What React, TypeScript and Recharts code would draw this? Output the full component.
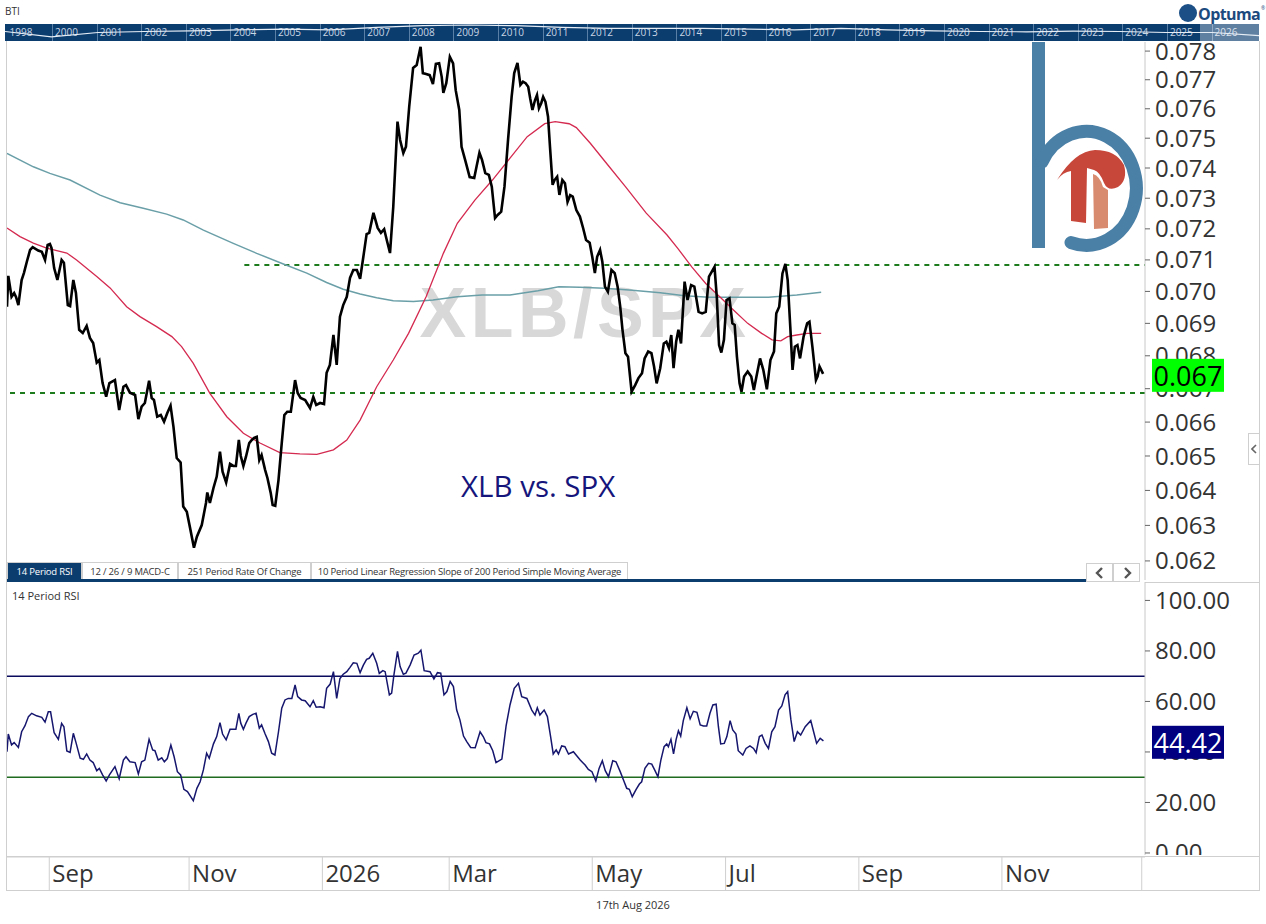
import React from 'react';
import { LineChart, Line, XAxis, YAxis, ReferenceLine } from 'recharts';

// x = trading session counted from the left edge of the window (about 13 Aug 2025)
const price: [number, number][] = [
  [0, 0.06952], [0.4, 0.07049], [1.4, 0.06983], [2.2, 0.06995], [2.8, 0.06982], [3.5, 0.06957], [4.5, 0.07036], [5.2, 0.07058],
  [6.1, 0.07094], [7.1, 0.07132], [7.9, 0.07141], [9.6, 0.0713], [10.7, 0.07126], [11.7, 0.071], [12.5, 0.07148], [13.2, 0.07151],
  [13.7, 0.07138], [14.5, 0.07074], [15.5, 0.07036], [16.8, 0.071], [17.5, 0.07091], [18.7, 0.06957], [19.4, 0.06954], [20.4, 0.07036],
  [21.2, 0.06995], [22.2, 0.0688], [23.3, 0.0687], [24.5, 0.06892], [25.5, 0.06855], [26.5, 0.06839], [27.6, 0.06779], [28.4, 0.06787],
  [29.4, 0.06717], [30.5, 0.06676], [31.5, 0.06717], [33.2, 0.06726], [34.5, 0.06636], [35.8, 0.06706], [36.6, 0.06711], [37.8, 0.06688],
  [39.4, 0.06681], [40.4, 0.06609], [41.4, 0.06646], [42.4, 0.06657], [43.7, 0.06724], [44.5, 0.06672], [45.2, 0.06666], [46.2, 0.06616],
  [47.3, 0.06621], [48.3, 0.06601], [49.3, 0.06627], [50.3, 0.06649], [51.2, 0.06586], [52.2, 0.06494], [53.4, 0.06481], [54.2, 0.06354],
  [55.3, 0.06339], [56.3, 0.06293], [57.5, 0.06237], [58.4, 0.06268], [59.9, 0.06301], [61.2, 0.06364], [61.6, 0.06394], [62.4, 0.06364],
  [63.5, 0.06407], [64.5, 0.0644], [65.5, 0.06513], [66.3, 0.06454], [67.4, 0.06423], [68.6, 0.06477], [69.6, 0.06471], [70.4, 0.06471],
  [71.3, 0.06547], [71.9, 0.065], [72.7, 0.06471], [73.5, 0.06498], [74.5, 0.06538], [75.3, 0.06547], [76, 0.06553], [76.8, 0.06556],
  [77.6, 0.06488], [78.3, 0.06503], [79.4, 0.06459], [80.1, 0.06436], [81.1, 0.06393], [81.7, 0.06358], [82.5, 0.06356], [83.5, 0.0643],
  [84.5, 0.06538], [85.3, 0.06621], [86.2, 0.06631], [87.3, 0.06631], [88.6, 0.06726], [89.4, 0.06687], [90.3, 0.06672], [91.7, 0.06666],
  [93.2, 0.06642], [94.2, 0.06675], [95.1, 0.06651], [96.3, 0.06657], [97.5, 0.06654], [98.3, 0.06748], [99.3, 0.06772], [100.4, 0.06864],
  [101.4, 0.06772], [102.4, 0.06921], [103.4, 0.06957], [104.5, 0.06983], [105.5, 0.07043], [106.5, 0.07068], [107.6, 0.07068], [108.6, 0.0704],
  [109.6, 0.0711], [110.6, 0.07183], [111.4, 0.07187], [112.7, 0.07252], [114, 0.07203], [115, 0.07187], [116, 0.07199], [116.8, 0.07164],
  [117.8, 0.07122], [118.8, 0.07272], [120.1, 0.07556], [120.9, 0.07494], [121.9, 0.0745], [122.7, 0.07471], [123.7, 0.07607], [124.9, 0.07741],
  [126, 0.07751], [127.2, 0.07815], [127.9, 0.07723], [128.9, 0.0772], [130, 0.07716], [131, 0.07685], [131.9, 0.07755], [132.9, 0.07757],
  [133.7, 0.0771], [134.2, 0.07655], [135.1, 0.07688], [136.2, 0.0778], [137.2, 0.07757], [138, 0.07664], [139.1, 0.07596], [139.8, 0.07471],
  [140.9, 0.07427], [142.3, 0.0737], [143.7, 0.07367], [144.4, 0.07404], [145.3, 0.07451], [146.1, 0.07427], [147.1, 0.07383], [148.2, 0.07377],
  [149.1, 0.07338], [150.1, 0.07235], [150.9, 0.07245], [152, 0.07256], [153, 0.07338], [154.1, 0.07494], [155.2, 0.07641], [156, 0.07723],
  [157, 0.07759], [157.9, 0.07682], [158.7, 0.07693], [159.5, 0.07688], [160.3, 0.07676], [160.9, 0.07636], [161.6, 0.07596], [162.4, 0.0763],
  [163, 0.07647], [163.6, 0.07602], [164.3, 0.07619], [164.9, 0.07641], [165.6, 0.07624], [166.4, 0.07573], [167, 0.07471], [167.8, 0.07344],
  [168.4, 0.0736], [169.2, 0.07371], [169.9, 0.07311], [170.8, 0.0736], [171.6, 0.07349], [172.4, 0.07288], [173.2, 0.0731], [174, 0.07305],
  [175.1, 0.07261], [176.2, 0.0724], [177.2, 0.07202], [178.1, 0.07164], [179.2, 0.07155], [180, 0.0711], [180.8, 0.07058], [181.5, 0.0711],
  [182.4, 0.07132], [183.1, 0.07094], [183.9, 0.07015], [184.8, 0.06999], [185.9, 0.07068], [186.9, 0.07058], [187.8, 0.07015], [188.6, 0.06952],
  [189.3, 0.0688], [190.2, 0.06808], [191, 0.06797], [192.1, 0.06691], [193.2, 0.06711], [194.2, 0.06732], [195.3, 0.06747], [196.1, 0.06792],
  [197.2, 0.06813], [198.2, 0.06808], [199, 0.06767], [199.8, 0.06716], [200.9, 0.06762], [202, 0.06838], [202.8, 0.06843], [203.6, 0.06823],
  [204.3, 0.06864], [205, 0.06762], [205.8, 0.06843], [206.5, 0.0688], [207.3, 0.06838], [208.4, 0.07031], [209.3, 0.06973], [210.4, 0.0702],
  [211.4, 0.07015], [212.7, 0.06936], [213.8, 0.06931], [214.9, 0.06936], [215.9, 0.07047], [217.6, 0.07078], [218.3, 0.06983], [219, 0.06833],
  [219.7, 0.0681], [220.5, 0.06849], [221.3, 0.06973], [222.2, 0.06978], [223.1, 0.069], [223.8, 0.06895], [224.5, 0.06797], [225.3, 0.06716],
  [225.9, 0.06691], [226.7, 0.06737], [227.8, 0.06752], [228.9, 0.06737], [229.7, 0.06696], [230.5, 0.06737], [231.6, 0.06792], [232.6, 0.06757],
  [233.7, 0.06698], [234.8, 0.06787], [235.9, 0.06813], [236.6, 0.06931], [237.5, 0.06952], [238.5, 0.07057], [239.4, 0.07087], [240.1, 0.07036],
  [240.9, 0.0689], [241.6, 0.06757], [242.3, 0.06828], [243.1, 0.06833], [243.9, 0.06792], [245, 0.06859], [246.1, 0.069], [246.8, 0.06905],
  [247.7, 0.06828], [248.8, 0.06726], [249.3, 0.06737], [249.9, 0.06767], [250.4, 0.06757], [251, 0.06745],
];

// red moving average
const sma50: [number, number][] = [
  [0, 0.07203], [4, 0.07175], [8.1, 0.07154], [12.2, 0.07138], [18.4, 0.07122], [21.4, 0.071], [27.6, 0.07047], [31.7, 0.07011],
  [36.8, 0.06952], [40.9, 0.06921], [46, 0.0689], [50.7, 0.06859], [53.7, 0.06828], [57.3, 0.06777], [62.4, 0.06686], [67.6, 0.06616],
  [72.7, 0.06567], [77.8, 0.06538], [83.9, 0.0651], [90.1, 0.06506], [95.3, 0.06505], [100.4, 0.06518], [104.5, 0.06547], [108.6, 0.06606],
  [113.7, 0.06706], [118.8, 0.06787], [123.5, 0.06869], [128.9, 0.06983], [134.2, 0.07121], [138.5, 0.07218], [143.9, 0.07294], [149.3, 0.0736],
  [154.7, 0.07433], [160, 0.07505], [165.4, 0.07549], [168.6, 0.07556], [172.9, 0.07549], [175.1, 0.07536], [179.4, 0.07483], [184.8, 0.0741],
  [190.2, 0.07338], [196.6, 0.07251], [203, 0.0718], [206.3, 0.07137], [210.6, 0.07078], [214.9, 0.07025], [219.2, 0.06983], [223.5, 0.06941],
  [227.8, 0.069], [232.1, 0.06869], [235.3, 0.06849], [238, 0.06846], [240.1, 0.06859], [242.9, 0.06864], [246.1, 0.06869], [250.4, 0.06869],
];

// teal moving average
const sma200: [number, number][] = [
  [0, 0.07449], [8.1, 0.07404], [13.2, 0.07382], [19.4, 0.0736], [28.6, 0.0731], [34.8, 0.07285], [41.9, 0.07267], [49.1, 0.07248],
  [54.2, 0.07229], [60.4, 0.07196], [69.6, 0.07153], [76.8, 0.07121], [85, 0.07087], [92.2, 0.07058], [98.3, 0.07028], [103.4, 0.07007],
  [108.6, 0.06992], [113.7, 0.0698], [118.8, 0.06971], [125, 0.06968], [131, 0.06973], [138.5, 0.06983], [146.1, 0.06989], [154.7, 0.06989],
  [163.3, 0.07002], [169.7, 0.07015], [176.2, 0.07013], [183.7, 0.0701], [192.3, 0.07004], [200.9, 0.06996], [208.4, 0.06986], [215.9, 0.06982],
  [224.5, 0.06982], [234.2, 0.06982], [242.9, 0.06989], [250.4, 0.06997],
];

const rsi14: [number, number][] = [
  [0, 40.1], [0.4, 47.1], [1.4, 42.8], [2.2, 43.7], [3.5, 41.8], [4.5, 48], [5.5, 50.3], [6.6, 54], [7.6, 55.3], [9.1, 54.3],
  [10.7, 53.7], [11.7, 51.8], [12.7, 55.9], [13.4, 55.9], [14.5, 47.6], [15.8, 45], [16.8, 51.3], [17.5, 50], [18.4, 40.4], [19.4, 39.8],
  [20.4, 47.4], [21.2, 43.8], [22.5, 37.5], [23.5, 37.1], [24.5, 39.2], [25.5, 36.8], [26.5, 35.8], [27.6, 32.6], [28.4, 33.5], [29.4, 30.9],
  [30.5, 28.5], [31.5, 30.9], [33.2, 34.2], [34.5, 29.4], [35.8, 36.8], [36.6, 38.1], [37.8, 36.1], [39.4, 35.8], [40.4, 31.3], [41.4, 36.1],
  [42.4, 36.8], [43.7, 45], [44.8, 40.8], [45.5, 40.5], [46.5, 36.8], [47.6, 37.7], [48.4, 36.1], [49.3, 37.4], [50.4, 42.7], [51.4, 38.1],
  [52.4, 32.2], [53.4, 30.9], [54.4, 25.2], [55.5, 24.3], [56.5, 22.3], [57.3, 20.7], [58.4, 25.6], [59.4, 28.2], [60.4, 32.9], [61.4, 39.5],
  [62.2, 37.5], [63.5, 43.2], [64.5, 46.1], [65.5, 51.6], [66.3, 47.1], [67.4, 44.8], [68.6, 49], [70.4, 49], [71.3, 55.3], [71.9, 51.4],
  [72.7, 49], [73.5, 51.4], [74.5, 54], [75.6, 54.9], [76.6, 55.3], [77.6, 49.4], [78.3, 50.7], [79.4, 47.1], [80.4, 44.1], [81.4, 39.5],
  [82.4, 38.8], [83.5, 48], [84.5, 57.3], [85.5, 60.6], [86.5, 61.2], [87.6, 61.2], [88.6, 66.5], [89.4, 61.9], [90.6, 60.6], [91.7, 60.3],
  [93.2, 57.9], [94.2, 60.3], [95.1, 57.7], [96.3, 57.9], [97.5, 57.5], [98.3, 65.2], [99.4, 66.9], [100.4, 71.8], [101.4, 61.2], [102.4, 69.1],
  [103.4, 70.8], [104.5, 71.8], [105.5, 73.5], [106.5, 75.3], [107.6, 75.1], [108.6, 71.4], [109.6, 74.4], [110.6, 76.7], [111.4, 77.1], [112.5, 79.1],
  [113.7, 75.1], [114.5, 71.1], [115.6, 72.2], [116.3, 71.8], [117.6, 62.6], [118.3, 63.3], [119, 70.5], [120.1, 79.8], [120.9, 73.8], [121.9, 70.8],
  [122.7, 71.2], [124, 74.5], [125.2, 78.4], [126.5, 79.1], [127.3, 80.3], [128.3, 72.2], [130.1, 71.8], [131.3, 68.9], [132.4, 71.4], [133.4, 71.2],
  [134.4, 62.6], [135.3, 63.9], [136.3, 67.9], [137.3, 65.9], [138.3, 56.6], [139.3, 52.7], [140.4, 46.3], [141.4, 44.1], [142.6, 41.8], [144, 41.7],
  [145.5, 48], [146.5, 46], [147.3, 43.7], [148.4, 43.2], [149.4, 40.5], [150.4, 35.8], [152.2, 37.2], [153.5, 50.3], [154.7, 58.6], [156, 65.2],
  [157.3, 67.2], [158.3, 61.9], [159.9, 61.2], [161.4, 56.6], [162.4, 54.6], [163.1, 57.5], [163.9, 54.6], [165.2, 56.6], [166.2, 54], [167.2, 46],
  [168, 39.2], [168.9, 40.8], [169.6, 39.2], [170.6, 42.4], [171.6, 42.1], [172.7, 39.2], [174.2, 40.1], [176.3, 36.8], [177.8, 34.8], [178.8, 33.1],
  [179.9, 32.2], [181.1, 28.5], [182.1, 33.5], [183.1, 36.5], [184, 32.6], [185, 30.2], [186.3, 36.5], [187.3, 36.1], [188.6, 32.2], [189.6, 28.9],
  [190.6, 25.6], [191.4, 25.2], [192.3, 22.3], [193.5, 25.2], [194.5, 27.3], [195.2, 28.2], [196.2, 33.5], [197.3, 35.5], [198.3, 35.2], [199.3, 32.6],
  [200.2, 30.2], [201.1, 36.8], [202.1, 42.1], [202.9, 43.2], [203.4, 42.1], [204.2, 45], [205, 39.2], [205.8, 45], [206.5, 48.4], [207.2, 46.3],
  [208, 52.4], [209.1, 57.5], [210.1, 53.1], [211.1, 56.1], [212.2, 55.7], [213.2, 50.7], [214.2, 50.3], [215.2, 50.3], [216.2, 55.3], [217.1, 58.6],
  [218.1, 58.9], [218.8, 50], [219.5, 43.2], [220.6, 43.4], [221.4, 46.1], [222.4, 52.4], [223.2, 48.7], [224.2, 47.1], [224.9, 40.5], [226.3, 38.8],
  [227.3, 41.4], [228.5, 42.4], [229.6, 41.4], [230.4, 39.7], [231.4, 46.1], [232.2, 46.7], [233.2, 43.4], [234.2, 41.4], [235.2, 48], [236.2, 50],
  [237.3, 56.6], [238.3, 58.2], [239.3, 62.6], [240.1, 63.9], [241.1, 52.7], [242.1, 44.1], [243.1, 48], [244.1, 46.7], [245.5, 50], [247.2, 52.4],
  [248.2, 47.4], [249, 43.4], [250.1, 45.4], [251.1, 44.42],
];

const priceTicks = [0.062, 0.063, 0.064, 0.065, 0.066, 0.067, 0.068, 0.069, 0.07, 0.071, 0.072, 0.073, 0.074, 0.075, 0.076, 0.077, 0.078];
const rsiTicks = [0, 20, 40, 60, 80, 100];
const monthTicks = [13, 56, 97, 136, 180, 221, 262, 306, 349];
const monthLabels = ['Sep', 'Nov', '2026', 'Mar', 'May', 'Jul', 'Sep', 'Nov', ''];

const resistance = 0.07084;
const resistanceFrom = 73;
const support = 0.06687;
const overbought = 70;
const oversold = 30;

const timelineYears = ['1998', '2000', '2001', '2002', '2003', '2004', '2005', '2006', '2007', '2008', '2009', '2010', '2011', '2012',
  '2013', '2014', '2015', '2016', '2017', '2018', '2019', '2020', '2021', '2022', '2023', '2024', '2025', '2026'];
const timelineLevels = [28, 12, 25, 28, 30, 33, 35, 33, 40, 45, 47, 45, 40, 37, 37, 37, 35, 33, 37, 33, 30, 28, 27, 29, 28, 25, 25, 16];

const tabs = ['14 Period RSI', '12 / 26 / 9 MACD-C', '251 Period Rate Of Change', '10 Period Linear Regression Slope of 200 Period Simple Moving Average'];
const tabWidths = [75, 96, 133, 317];

const X_DOMAIN: [number, number] = [0, 350];
const PRICE_DOMAIN: [number, number] = [0.06147, 0.07832];
const RSI_DOMAIN: [number, number] = [-1.2, 107.3];
const NAVY = '#0c3d6f';
const GRID = '#cfcfcf';

const buildRows = (series: Record<string, [number, number][]>) => {
  const rows = new Map<number, Record<string, number>>();
  Object.entries(series).forEach(([key, pts]) => {
    pts.forEach(([s, v]) => {
      const row = rows.get(s) ?? { s };
      row[key] = v;
      rows.set(s, row);
    });
  });
  return [...rows.values()].sort((a, b) => a.s - b.s);
};

const priceRows = buildRows({ price, sma50, sma200 });
const rsiRows = buildRows({ rsi: rsi14 });
const timelineRows = timelineLevels.map((level, i) => ({ i, level }));
const lastPrice = price[price.length - 1][1];
const lastRsi = rsi14[rsi14.length - 1][1];

const ValueBox = ({ viewBox, text, bg, color }: any) => {
  if (!viewBox) return null;
  const x = viewBox.x + viewBox.width + 7;
  const y = viewBox.y;
  return (
    <g>
      <rect x={x} y={y - 15} width={72} height={33} fill={bg} />
      <text x={x + 36} y={y + 2} textAnchor="middle" dominantBaseline="central" fontSize={27} fill={color}>
        {text}
      </text>
    </g>
  );
};

const MonthTick = ({ x, y, payload }: any) => {
  const i = monthTicks.indexOf(payload.value);
  return (
    <g>
      <line x1={x} y1={y} x2={x} y2={y + 34} stroke={GRID} />
      <text x={x + 3} y={y + 15} dominantBaseline="central" fontSize={24} fill="#333">
        {monthLabels[i]}
      </text>
    </g>
  );
};

// transparent layer drawn above the axis so the last-value badge hides the tick under it
const BadgeLayer = ({ rows, dataKey, height, domain, scale, value, text, bg, color }: any) => (
  <LineChart width={1253} height={height} data={rows} margin={{ top: 0, right: 115, left: 0, bottom: 0 }}>
    <XAxis dataKey="s" type="number" domain={X_DOMAIN} hide allowDataOverflow />
    <YAxis hide type="number" scale={scale} domain={domain} allowDataOverflow />
    <Line dataKey={dataKey} stroke="none" dot={false} connectNulls isAnimationActive={false} />
    <ReferenceLine y={value} stroke="none" label={<ValueBox text={text} bg={bg} color={color} />} />
  </LineChart>
);

const Chevron = ({ left }: { left: boolean }) => (
  <svg width={10} height={12} viewBox="0 0 10 12">
    <polyline points={left ? '7,1 2,6 7,11' : '3,1 8,6 3,11'} fill="none" stroke="#555" strokeWidth={2.4} />
  </svg>
);

const Logo = () => (
  <svg width={1266} height={924} style={{ position: 'absolute', left: 0, top: 0, pointerEvents: 'none' }}>
    <rect x={1032} y={42} width={13} height={206} fill="#4a7fa6" />
    <path d="M 1042 162 A 50 57 0 1 1 1071 242.6" fill="none" stroke="#4a7fa6" strokeWidth={13} strokeLinecap="round" />
    <path d="M 1057 180 Q 1075 151 1095 150 Q 1116 150 1124 165 Q 1128 180 1118 187 Q 1108 192 1104 183 Q 1100 172 1094 170 L 1087 168 L 1086 223 L 1071 221 L 1071 171 Q 1063 172 1057 180 Z" fill="#c8473b" />
    <path d="M 1093 174 Q 1100 176 1103 187 L 1108 190 L 1108 228 L 1094 229 Z" fill="#d98b6f" />
    <circle cx={1188} cy={13} r={9} fill="#1b4f86" />
    <path d="M 1183 16 A 6 6 0 1 1 1193 9 A 5 5 0 1 0 1183 16 Z" fill="#fff" />
    <text x={1198} y={20} fontSize={16} fontWeight={700} fill="#1c4a7e" fontFamily="Open Sans" letterSpacing={-0.6}>Optuma</text>
    <text x={1261} y={10} fontSize={5} fill="#1c4a7e">®</text>
  </svg>
);

export default function App() {
  return (
    <div style={{ position: 'absolute', left: 0, top: 0, width: 1266, height: 924, background: '#fff', fontFamily: '"Open Sans", sans-serif', color: '#333', overflow: 'hidden' }}>
      <div style={{ position: 'absolute', left: 5, top: 4, fontSize: 10 }}>BTI</div>

      {/* long-history timeline bar */}
      <div style={{ position: 'absolute', left: 5, top: 24, width: 1254, height: 17, background: NAVY, overflow: 'hidden' }}>
        <div style={{ position: 'absolute', left: 2.5, top: 0, display: 'flex', height: 17 }}>
          {timelineYears.map((yr, i) => (
            <div key={yr} style={{ width: 44.6, height: 17, boxSizing: 'border-box', borderLeft: i ? '1px solid #5a7fa6' : 'none', paddingLeft: 2, fontSize: 10, lineHeight: '17px', color: '#c9d6e4' }}>
              {yr}
            </div>
          ))}
        </div>
        <div style={{ position: 'absolute', left: 1195, top: 0, width: 59, height: 17, background: 'rgba(255,255,255,0.35)' }} />
        <div style={{ position: 'absolute', left: 0, top: 0 }}>
          <LineChart width={1254} height={17} data={timelineRows} margin={{ top: 0, right: 0, left: 0, bottom: 0 }}>
            <XAxis dataKey="i" hide />
            <YAxis hide domain={[0, 50]} />
            <Line dataKey="level" stroke="#e6edf5" strokeWidth={1.2} dot={false} isAnimationActive={false} />
          </LineChart>
        </div>
      </div>

      {/* watermark and caption sit under the lines */}
      <div style={{ position: 'absolute', left: 410, top: 271, width: 350, textAlign: 'center', fontFamily: '"Liberation Sans", Arial, sans-serif', fontSize: 70, fontWeight: 700, color: '#d8d8d8', lineHeight: '84px', letterSpacing: 4.5 }}>
        XLB/SPX
      </div>
      <div style={{ position: 'absolute', left: 461, top: 466, fontSize: 29.5, color: '#15157c', lineHeight: '40px' }}>XLB vs. SPX</div>

      {/* price panel */}
      <div style={{ position: 'absolute', left: 7, top: 42 }}>
        <LineChart width={1253} height={538} data={priceRows} margin={{ top: 0, right: 0, left: 0, bottom: 0 }}>
          <XAxis dataKey="s" type="number" domain={X_DOMAIN} hide allowDataOverflow />
          <YAxis
            orientation="right"
            width={115}
            type="number"
            scale="log"
            domain={PRICE_DOMAIN}
            allowDataOverflow
            ticks={priceTicks}
            interval={0}
            tickFormatter={(v: number) => v.toFixed(3)}
            tick={{ fontSize: 24, fill: '#333' }}
            tickSize={5}
            tickMargin={5}
            tickLine={{ stroke: '#666' }}
            axisLine={{ stroke: '#c8c8c8' }}
          />
          <ReferenceLine segment={[{ x: resistanceFrom, y: resistance }, { x: X_DOMAIN[1], y: resistance }]} stroke="#1d7a1d" strokeWidth={2} strokeDasharray="5 5" />
          <ReferenceLine y={support} stroke="#1d7a1d" strokeWidth={2} strokeDasharray="5 5" />
          <Line dataKey="sma200" stroke="#6a9fa8" strokeWidth={1.5} dot={false} connectNulls isAnimationActive={false} />
          <Line dataKey="sma50" stroke="#d42a50" strokeWidth={1.3} dot={false} connectNulls isAnimationActive={false} />
          <Line dataKey="price" stroke="#000" strokeWidth={2.6} dot={false} connectNulls isAnimationActive={false} />
        </LineChart>
      </div>
      <div style={{ position: 'absolute', left: 7, top: 42, pointerEvents: 'none' }}>
        <BadgeLayer rows={priceRows} dataKey="price" height={538} domain={PRICE_DOMAIN} scale="log" value={lastPrice} text={lastPrice.toFixed(3)} bg="#00ff00" color="#000" />
      </div>

      <Logo />

      {/* indicator tabs */}
      <div style={{ position: 'absolute', left: 7, top: 562, display: 'flex', height: 18 }}>
        {tabs.map((t, i) => (
          <div key={t} style={{ width: tabWidths[i], height: 18, boxSizing: 'border-box', border: '1px solid #cfcfcf', borderBottom: 'none', background: i === 0 ? NAVY : '#fff', color: i === 0 ? '#fff' : '#333', fontSize: 9.5, lineHeight: '17px', textAlign: 'center', whiteSpace: 'nowrap', letterSpacing: -0.2 }}>
            {t}
          </div>
        ))}
      </div>
      <div style={{ position: 'absolute', left: 7, top: 579, width: 1079, height: 3, background: NAVY }} />
      <div style={{ position: 'absolute', left: 1086, top: 563, display: 'flex' }}>
        {[true, false].map((left) => (
          <div key={String(left)} style={{ width: 27, height: 19, boxSizing: 'border-box', border: '1px solid #cfcfcf', display: 'flex', alignItems: 'center', justifyContent: 'center', background: '#fff' }}>
            <Chevron left={left} />
          </div>
        ))}
      </div>
      <div style={{ position: 'absolute', left: 1145, top: 582, width: 114, height: 1, background: '#cfcfcf' }} />

      {/* RSI panel */}
      <div style={{ position: 'absolute', left: 12, top: 588, fontSize: 11 }}>14 Period RSI</div>
      <div style={{ position: 'absolute', left: 7, top: 582 }}>
        <LineChart width={1253} height={274} data={rsiRows} margin={{ top: 0, right: 0, left: 0, bottom: 0 }}>
          <XAxis dataKey="s" type="number" domain={X_DOMAIN} hide allowDataOverflow />
          <YAxis
            orientation="right"
            width={115}
            type="number"
            domain={RSI_DOMAIN}
            allowDataOverflow
            ticks={rsiTicks}
            interval={0}
            tickFormatter={(v: number) => v.toFixed(2)}
            tick={{ fontSize: 24, fill: '#333' }}
            tickSize={5}
            tickMargin={5}
            tickLine={{ stroke: '#666' }}
            axisLine={{ stroke: '#c8c8c8' }}
          />
          <ReferenceLine y={overbought} stroke="#0b0b5e" strokeWidth={1.5} />
          <ReferenceLine y={oversold} stroke="#1f6b1f" strokeWidth={1.5} />
          <Line dataKey="rsi" stroke="#16166e" strokeWidth={1.5} dot={false} isAnimationActive={false} />
        </LineChart>
      </div>
      <div style={{ position: 'absolute', left: 7, top: 582, pointerEvents: 'none' }}>
        <BadgeLayer rows={rsiRows} dataKey="rsi" height={274} domain={RSI_DOMAIN} scale="auto" value={lastRsi} text={lastRsi.toFixed(2)} bg="#000080" color="#fff" />
      </div>

      {/* month axis strip */}
      <div style={{ position: 'absolute', left: 7, top: 855, width: 1253, height: 36, background: '#fff' }}>
        <LineChart width={1253} height={36} data={rsiRows} margin={{ top: 0, right: 115, left: 0, bottom: 0 }}>
          <XAxis
            dataKey="s"
            type="number"
            domain={X_DOMAIN}
            allowDataOverflow
            ticks={monthTicks}
            interval={0}
            height={34}
            tick={<MonthTick />}
            tickLine={false}
            tickSize={0}
            tickMargin={0}
            axisLine={{ stroke: GRID }}
          />
          <YAxis hide domain={[0, 100]} />
          <Line dataKey="rsi" stroke="none" dot={false} isAnimationActive={false} />
        </LineChart>
      </div>

      {/* frame */}
      <div style={{ position: 'absolute', left: 6, top: 41, width: 1254, height: 850, boxSizing: 'border-box', borderLeft: '1px solid #cfcfcf', borderRight: '1px solid #cfcfcf', borderBottom: '1px solid #cfcfcf', pointerEvents: 'none' }} />
      <div style={{ position: 'absolute', left: 6, top: 856, width: 1254, height: 1, background: GRID }} />
      <div style={{ position: 'absolute', left: 1248, top: 433, width: 11, height: 32, boxSizing: 'border-box', border: '1px solid #cfcfcf', borderRight: 'none', display: 'flex', alignItems: 'center', justifyContent: 'center', background: '#fff' }}>
        <svg width={6} height={10} viewBox="0 0 6 10"><polyline points="5,1 1,5 5,9" fill="none" stroke="#666" strokeWidth={1.6} /></svg>
      </div>

      <div style={{ position: 'absolute', left: 0, top: 897, width: 1266, textAlign: 'center', fontSize: 11 }}>17th Aug 2026</div>
    </div>
  );
}
